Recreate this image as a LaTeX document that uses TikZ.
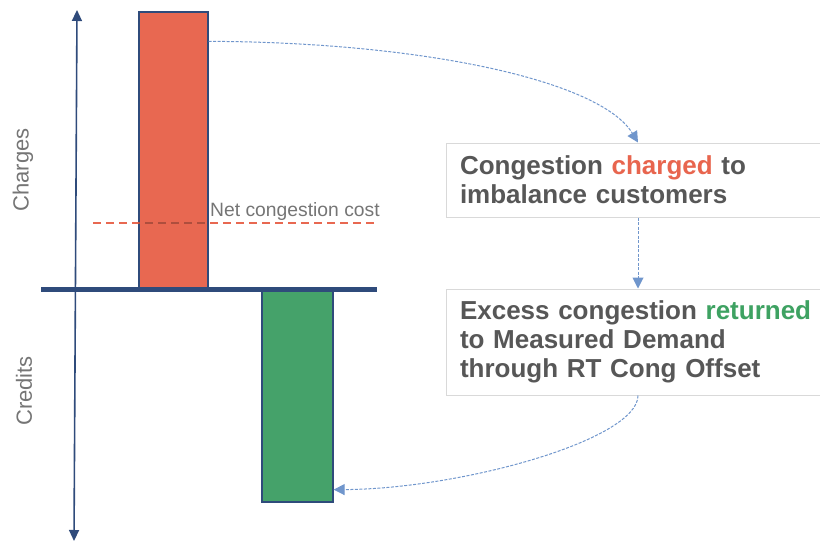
\documentclass[tikz,border=0pt]{standalone}
\usepackage{fontspec}
\setmainfont{Liberation Sans}
\usetikzlibrary{arrows.meta}
\definecolor{barred}{HTML}{E86851}
\definecolor{bargreen}{HTML}{45A26A}
\definecolor{navy}{HTML}{2F4B7B}
\definecolor{arrblue}{HTML}{7096CC}
\definecolor{txtgray}{HTML}{575757}
\definecolor{lightgray}{HTML}{757575}
\definecolor{boxgray}{HTML}{D9D9D9}
\definecolor{hlred}{HTML}{E8654E}
\definecolor{hlgreen}{HTML}{3EA262}
\tikzset{
  barbox/.style={draw=navy, line width=1.3pt, inner sep=0pt},
  textbox/.style={draw=boxgray, line width=1pt, fill=white, inner xsep=14pt, inner ysep=0pt,
    align=left, text=txtgray, font=\fontsize{26}{29}\selectfont\bfseries},
  conn/.style={draw=arrblue, line width=1pt, dash pattern=on 3pt off 1.5pt,
    -{Triangle[width=11pt,length=11pt]}},
  axislab/.style={text=lightgray, font=\fontsize{22}{24}\selectfont},
  netdash/.style={line width=2.3pt, dash pattern=on 8pt off 5pt},
}
\begin{document}
\begin{tikzpicture}[x=1pt,y=-1pt]
\useasboundingbox (0,0) rectangle (820,543);
\clip (0,0) rectangle (820,543);
% axis
\coordinate (axtop) at (77,10);
\coordinate (axbot) at (74,541);
\draw[navy, line width=1.6pt, {Triangle[width=10pt,length=11pt]}-{Triangle[width=10pt,length=11pt]}] (axtop) -- (axbot);
% bars
\node[barbox, fill=barred, minimum width=69pt, minimum height=276pt] (red) at (173.5,150) {};
\node[barbox, fill=bargreen, minimum width=71pt, minimum height=211pt] (green) at (297.5,396.5) {};
% net congestion cost
\coordinate (ncl) at (93,223);
\coordinate (ncr) at (377,223);
\draw[barred, netdash] (ncl) -- (ncr);
\begin{scope}
\clip (red.south west) rectangle (red.north east);
\draw[barred!75!black, netdash] (ncl) -- (ncr);
\end{scope}
\node[anchor=base west, inner sep=0pt, text=lightgray, font=\fontsize{19.3}{21}\selectfont] (net) at (210,216) {Net congestion cost};
% baseline
\coordinate (bl) at (41,289);
\coordinate (br) at (377,289);
\draw[navy, line width=5pt] (bl) -- (br);
% axis labels
\node[axislab, rotate=90] (charges) at (23,170) {Charges};
\node[axislab, rotate=90] (credits) at (24,391) {Credits};
% text boxes
\node[textbox, minimum width=384pt, minimum height=74pt, text width=356pt] (b1) at (638,180)
  {Congestion \textcolor{hlred}{charged} to\\imbalance customers};
\node[textbox, minimum width=384pt, minimum height=106pt, text width=356pt] (b2) at (638,342)
  {Excess congestion \textcolor{hlgreen}{returned}\\to Measured Demand\\through RT Cong Offset};
% connectors
\draw[conn] ([yshift=-30pt]red.north east) .. controls (420,42) and (600,80) .. (b1.north);
\draw[conn] (b1.south) -- (b2.north);
\draw[conn] (b2.south) .. controls (638,440) and (460,489) .. ([yshift=13pt]green.south east);
\end{tikzpicture}
\end{document}
